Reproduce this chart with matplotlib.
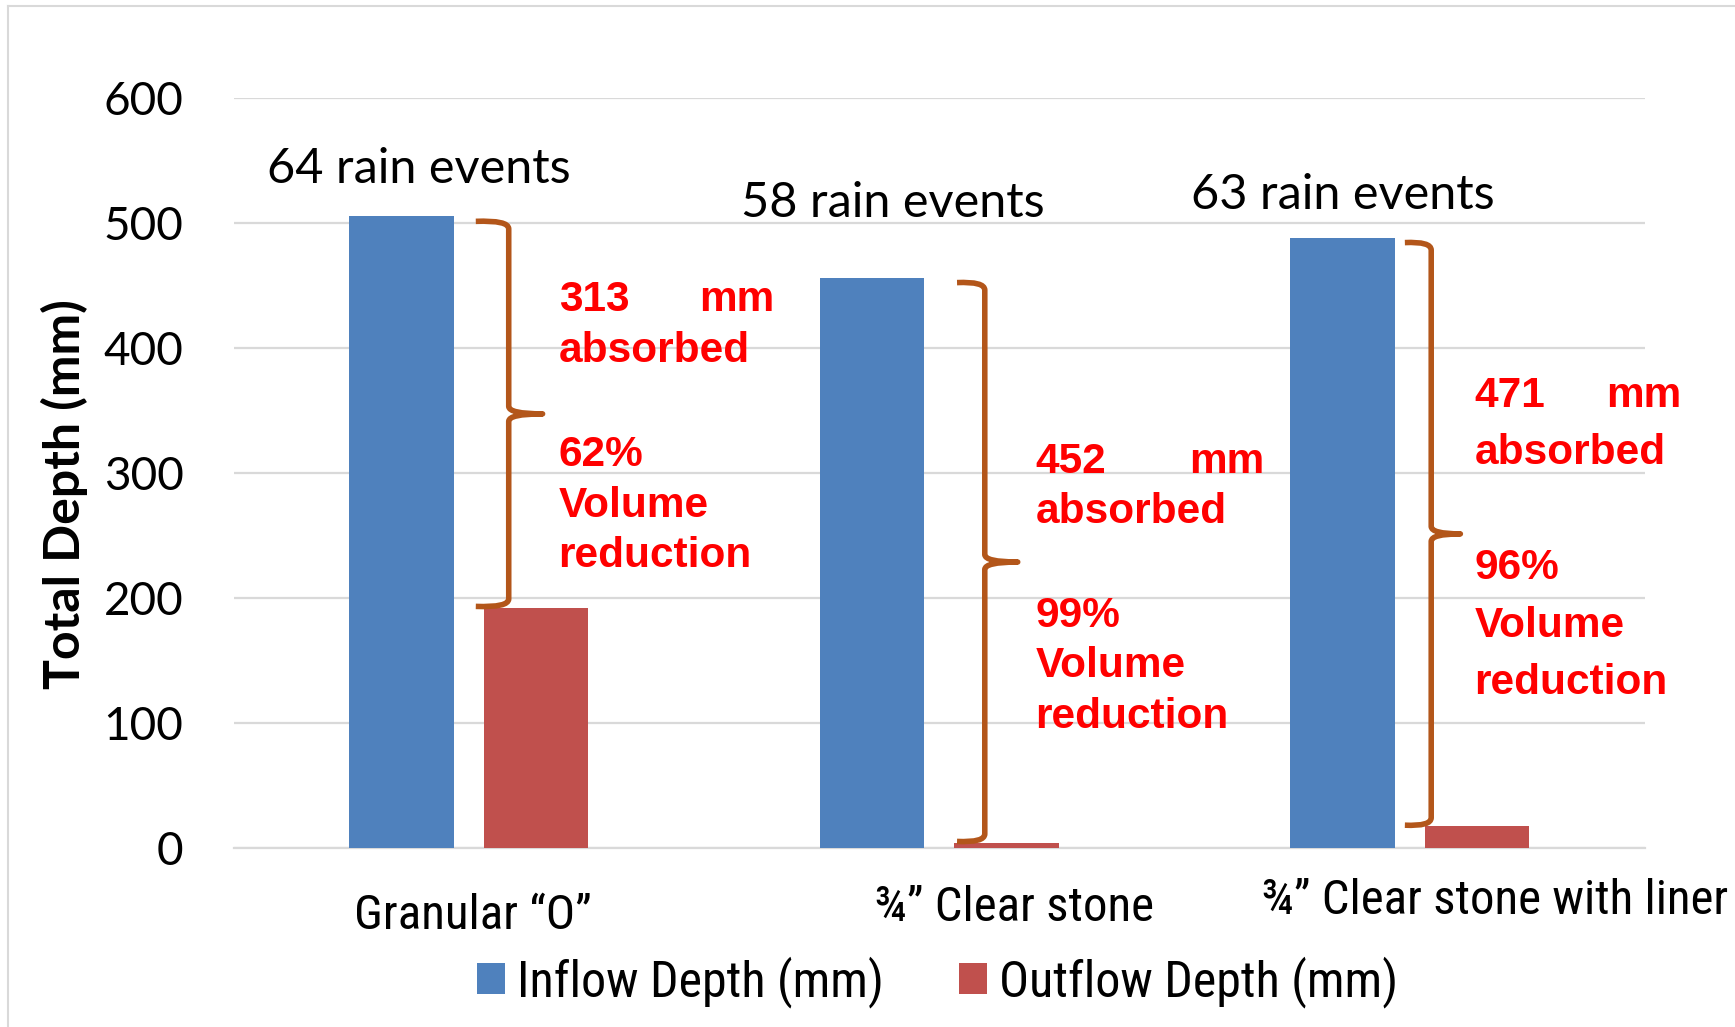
import numpy as np
import matplotlib.pyplot as plt
import matplotlib.font_manager as fm
from matplotlib.path import Path
from matplotlib.patches import PathPatch
from matplotlib.lines import Line2D

# values (mm)
categories = ['Granular \u201cO\u201d', '\u00be\u201d Clear stone', '\u00be\u201d Clear stone with liner']
inflow = [505, 456, 488]
outflow = [192, 4, 17]
rain_events = [64, 58, 63]
absorbed = [313, 452, 471]
reduction = [62, 99, 96]

BLUE = '#4F81BD'
RED = '#C0504D'
BRACE = '#B3561A'


def find_narrow():
    # the original uses a narrow sans; take the best condensed face we have
    prefs = ['Liberation Sans Narrow', 'Roboto Condensed', 'Open Sans Condensed',
             'Noto Sans Condensed', 'DejaVu Sans']
    for name in prefs:
        for f in fm.fontManager.ttflist:
            if f.name == name and f.style == 'normal' and f.weight in (400, 'normal', 'regular') \
                    and (name != 'DejaVu Sans' or f.stretch in ('condensed', 'semi-condensed')):
                return fm.FontProperties(fname=f.fname), name
    return fm.FontProperties(family='DejaVu Sans'), 'DejaVu Sans'


narrow_fp, narrow_name = find_narrow()
scale = 1.0 if 'Narrow' in narrow_name or 'Condensed' in narrow_name else 0.8

fig = plt.figure(figsize=(17.35, 10.27), dpi=100)
ax = fig.add_axes([0.1346, 0.1746, 0.8134, 0.7304])

x = np.arange(len(categories))
w = 0.222
off = 0.143
ax.bar(x - off, inflow, w, color=BLUE, label='Inflow Depth (mm)', zorder=3)
ax.bar(x + off, outflow, w, color=RED, label='Outflow Depth (mm)', zorder=3)

ax.set_xlim(-0.5, 2.5)
ax.set_ylim(0, 600)
ax.set_yticks(range(0, 601, 100))
ax.set_xticks([])
ax.yaxis.grid(True, color='#D9D9D9', linewidth=1.6, zorder=0)
for s in ['top', 'right', 'left']:
    ax.spines[s].set_visible(False)
ax.spines['bottom'].set_color('#D9D9D9')
ax.spines['bottom'].set_linewidth(1.6)
ax.tick_params(axis='y', length=0, pad=36, labelsize=33)
for t in ax.get_yticklabels():
    t.set_fontfamily('Lato')
ax.set_ylabel('Total Depth (mm)', fontsize=36, fontweight='bold', family='Lato')
ax.yaxis.set_label_coords(-0.103, 0.472)


def brace(ax, xe, xs, xt, ytop, ybot):
    # curly brace opening left, tip pointing right
    ym = (ytop + ybot) / 2
    c = 6
    verts = [(xe, ytop), (xs, ytop + 1), (xs, ytop - c),
             (xs, ym + c), (xs, ym), (xt, ym),
             (xs, ym), (xs, ym - c),
             (xs, ybot + c), (xs, ybot - 1), (xe, ybot)]
    codes = [Path.MOVETO, Path.CURVE3, Path.CURVE3,
             Path.LINETO, Path.CURVE3, Path.CURVE3,
             Path.CURVE3, Path.CURVE3,
             Path.LINETO, Path.CURVE3, Path.CURVE3]
    ax.add_patch(PathPatch(Path(verts, codes), fill=False, edgecolor=BRACE,
                           linewidth=4, zorder=4, capstyle='butt', joinstyle='round'))


brace_x = [(0.015, 0.085, 0.157), (1.038, 1.097, 1.167), (1.990, 2.046, 2.108)]
for i in range(3):
    xe, xs, xt = brace_x[i]
    brace(ax, xe, xs, xt, inflow[i] - 4, outflow[i] + 1)

# red annotations (justified text in the original, so "mm" sits at the right edge)
txt_x = [0.191, 1.205, 2.138]
mm_x = [0.650, 1.691, 2.578]
txt_y = [(438, 397, 314, 273, 233), (308.5, 268.5, 185.5, 145.5, 104.5),
         (361.5, 315.5, 223.5, 177.5, 131.5)]
red_kw = dict(color='red', fontsize=30.5, fontweight='bold', family='Liberation Sans',
              va='center', zorder=5, clip_on=False)
for i in range(3):
    ys = txt_y[i]
    lines = ['%d' % absorbed[i], 'absorbed', '%d%%' % reduction[i], 'Volume', 'reduction']
    for s, yy in zip(lines, ys):
        ax.text(txt_x[i], yy, s, ha='left', **red_kw)
    ax.text(mm_x[i], ys[0], 'mm', ha='right', **red_kw)

# rain event labels
ev_pos = [(-0.107, 543), (0.901, 516), (1.858, 522)]
for i in range(3):
    ax.text(ev_pos[i][0], ev_pos[i][1], '%d rain events' % rain_events[i], fontsize=35,
            family='Lato', ha='center', va='center')

# category labels (hand placed like the original)
cat_pos = [(0.008, -55), (1.16, -48), (2.18, -43)]
cat_fp = narrow_fp.copy()
cat_fp.set_size(35.2 * scale)
for i in range(3):
    ax.text(cat_pos[i][0], cat_pos[i][1], categories[i], fontproperties=cat_fp,
            ha='center', va='center', clip_on=False)

leg_fp = narrow_fp.copy()
leg_fp.set_size(36 * scale)
leg = fig.legend(loc='center', bbox_to_anchor=(0.5405, 0.044), ncol=2, frameon=False,
                 prop=leg_fp, handlelength=0.55, handleheight=0.55,
                 handletextpad=0.25, columnspacing=1.5)

# chart border (left and top)
fig.add_artist(Line2D([0.0045, 0.0045], [0, 0.994], color='#D9D9D9', linewidth=1.5))
fig.add_artist(Line2D([0.0045, 1], [0.994, 0.994], color='#D9D9D9', linewidth=1.5))

fig.savefig('out.png', dpi=100)
